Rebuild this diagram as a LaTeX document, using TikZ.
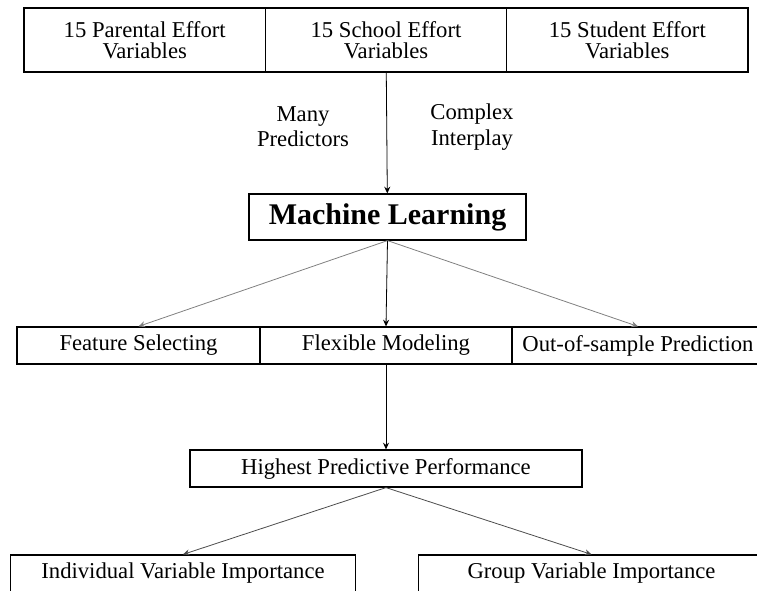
\documentclass[tikz,border=0pt]{standalone}
\usepackage{fontspec}
\setmainfont{Liberation Serif}
\usetikzlibrary{arrows.meta}
\begin{document}
\begin{tikzpicture}[x=0.75pt, y=-0.75pt, >={Stealth[length=5pt, width=4.5pt]},
    box/.style={draw, line width=0.9pt, inner sep=0pt, align=center,
        font=\fontsize{17}{16}\selectfont},
    link/.style={->, line width=0.6pt},
    note/.style={align=center, font=\fontsize{17}{19}\selectfont}]
    \useasboundingbox (0,0) rectangle (757,590);

    % three groups of effort variables
    \node[box, minimum width=181pt, minimum height=48pt] (parent) at (144.7,40) {15 Parental Effort\\Variables};
    \node[box, minimum width=181pt, minimum height=48pt] (school) at (386,40) {15 School Effort\\Variables};
    \node[box, minimum width=181pt, minimum height=48pt] (student) at (627.3,40) {15 Student Effort\\Variables};

    \node[note] (many) at (303,127) {Many\\Predictors};
    \node[note] (complex) at (472,127) {Complex\\Interplay};

    \node[box, minimum width=207.75pt, minimum height=34.5pt,
        font=\fontsize{22.5}{24}\selectfont\bfseries] (ml) at (387.5,217) {Machine Learning};

    % what the method brings
    \node[box, minimum width=182.25pt, minimum height=27.75pt] (feature) at (138.5,345.5) {Feature Selecting};
    \node[box, minimum width=189pt, minimum height=27.75pt] (flexible) at (386,345.5) {Flexible Modeling};
    \node[box, minimum width=189pt, minimum height=27.75pt] (outsample) at (638,345.5) {Out-of-sample Prediction};

    \node[box, minimum width=294pt, minimum height=27.75pt] (highest) at (386,468.5) {Highest Predictive Performance};

    % these run past the lower edge
    \node[box, minimum width=259pt, minimum height=27.75pt] (individual) at (183,573.5) {Individual Variable Importance};
    \node[box, minimum width=259.5pt, minimum height=27.75pt] (group) at (591.5,573.5) {Group Variable Importance};

    \draw[link] (school) -- (ml);
    \draw[link, gray] (ml.south) -- (feature.north);
    \draw[link] (ml.south) -- (flexible.north);
    \draw[link, gray] (ml.south) -- (outsample.north);
    \draw[link] (flexible) -- (highest);
    \draw[link, black!70] (highest.south) -- (individual.north);
    \draw[link, black!70] (highest.south) -- (group.north);
\end{tikzpicture}
\end{document}
